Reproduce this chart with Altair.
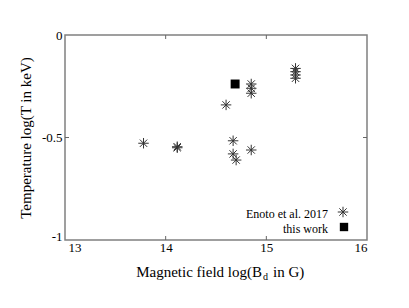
import altair as alt
import pandas as pd

# Enoto et al. 2017 points
enoto_x = [13.78, 14.115, 14.115, 14.60, 14.67, 14.67, 14.70, 14.85, 14.85, 14.85, 14.85, 15.29, 15.29, 15.29, 15.29]
enoto_y = [-0.528, -0.545, -0.55, -0.341, -0.516, -0.58, -0.61, -0.239, -0.26, -0.284, -0.561, -0.163, -0.179, -0.195, -0.211]
# this work
work_x = [14.69]
work_y = [-0.239]

x_ticks = [13, 14, 15, 16]
y_ticks = [0, -0.5, -1]
inner_x_ticks = [14, 15]
inner_y_ticks = [-0.5]

FONT = "Times New Roman, Liberation Serif, serif"
W, H = 302, 205

enoto = pd.DataFrame({"x": enoto_x, "y": enoto_y})
work = pd.DataFrame({"x": work_x, "y": work_y})

xs = alt.Scale(domain=[13, 16], nice=False, zero=False)
ys = alt.Scale(domain=[-1, 0], nice=False, zero=False)

star_path = "M-1,0L1,0M0,-1L0,1M-0.7,-0.7L0.7,0.7M-0.7,0.7L0.7,-0.7"
STAR_COLOR = "#333"

xaxis = alt.Axis(values=x_ticks, title=None,
                 labelOffset={"condition": {"test": "datum.value == 13", "value": 3}, "value": 0})
yaxis = alt.Axis(values=y_ticks, title="Temperature log(T in keV)",
                 labelOffset={"condition": {"test": "datum.value == -1", "value": -4}, "value": 0})

stars = alt.Chart(enoto).mark_point(shape=star_path, size=110, color=STAR_COLOR, strokeWidth=1, opacity=1, filled=False).encode(
    x=alt.X("x:Q", scale=xs, axis=xaxis),
    y=alt.Y("y:Q", scale=ys, axis=yaxis),
)
square = alt.Chart(work).mark_point(shape="square", size=80, color="black", filled=True, opacity=1).encode(
    x=alt.X("x:Q", scale=xs, axis=xaxis),
    y=alt.Y("y:Q", scale=ys, axis=yaxis),
)

tx = pd.DataFrame({"x": inner_x_ticks})
ty = pd.DataFrame({"y": inner_y_ticks})
rule_style = dict(color="#666", strokeWidth=1)
top_ticks = alt.Chart(tx).mark_rule(**rule_style).encode(x=alt.X("x:Q", scale=xs, axis=xaxis), y=alt.value(0), y2=alt.value(4))
bot_ticks = alt.Chart(tx).mark_rule(**rule_style).encode(x=alt.X("x:Q", scale=xs, axis=xaxis), y=alt.value(H - 4), y2=alt.value(H))
left_ticks = alt.Chart(ty).mark_rule(**rule_style).encode(y=alt.Y("y:Q", scale=ys, axis=yaxis), x=alt.value(0), x2=alt.value(4))
right_ticks = alt.Chart(ty).mark_rule(**rule_style).encode(y=alt.Y("y:Q", scale=ys, axis=yaxis), x=alt.value(W - 4), x2=alt.value(W))

# legend
leg_names = ["Enoto et al. 2017", "this work"]
leg_df = pd.DataFrame({"label": leg_names})
leg_text1 = alt.Chart(leg_df.iloc[[0]]).mark_text(align="right", baseline="middle", font=FONT, fontSize=12, color="black").encode(
    text="label:N", x=alt.value(263), y=alt.value(179))
leg_text2 = alt.Chart(leg_df.iloc[[1]]).mark_text(align="right", baseline="middle", font=FONT, fontSize=12, color="black").encode(
    text="label:N", x=alt.value(263), y=alt.value(194))
leg_star = alt.Chart(leg_df.iloc[[0]]).mark_point(shape=star_path, size=110, color=STAR_COLOR, strokeWidth=1, opacity=1, filled=False).encode(
    x=alt.value(278), y=alt.value(177))
leg_sq = alt.Chart(leg_df.iloc[[1]]).mark_point(shape="square", size=70, color="black", filled=True, opacity=1).encode(
    x=alt.value(279), y=alt.value(192))

# x axis title with subscript
xt = pd.DataFrame({"a": ["Magnetic field log(B"], "b": ["d"], "c": ["in G)"]})
xt1 = alt.Chart(xt).mark_text(align="right", baseline="alphabetic", font=FONT, fontSize=15, color="black").encode(
    text="a:N", x=alt.value(197), y=alt.value(242))
xt2 = alt.Chart(xt).mark_text(align="left", baseline="alphabetic", font=FONT, fontSize=10, color="black").encode(
    text="b:N", x=alt.value(198), y=alt.value(245))
xt3 = alt.Chart(xt).mark_text(align="left", baseline="alphabetic", font=FONT, fontSize=15, color="black").encode(
    text="c:N", x=alt.value(208), y=alt.value(242))

chart = alt.layer(
    top_ticks, bot_ticks, left_ticks, right_ticks,
    stars, square, leg_text1, leg_text2, leg_star, leg_sq, xt1, xt2, xt3,
).properties(
    width=W, height=H,
    autosize=alt.AutoSizeParams(type="none"),
    padding={"left": 57, "top": 27, "right": 10, "bottom": 60},
    background="white",
).configure_view(
    stroke="#808080", strokeWidth=1.5
).configure_axis(
    ticks=False, domain=False, grid=False,
    labelFont=FONT, labelFontSize=13, labelColor="black",
    labelExpr="toString(datum.value)",
    titleFont=FONT, titleFontSize=15, titleFontWeight="normal", titleColor="black",
).configure_axisX(
    labelPadding=1,
).configure_axisY(
    labelPadding=3, titlePadding=8,
)

chart.save("out.html", embed_options={"renderer": "svg", "actions": False})
